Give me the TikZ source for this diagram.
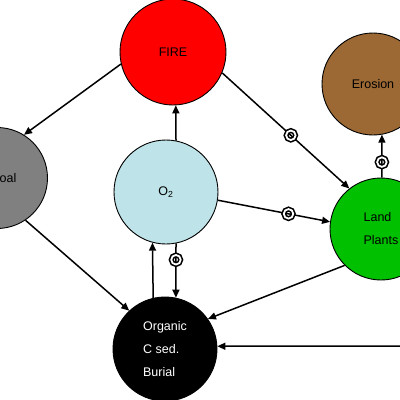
\documentclass[tikz,border=0pt]{standalone}
\usepackage{fontspec}
\setmainfont{Liberation Sans}
\usetikzlibrary{arrows.meta}
\definecolor{o2blue}{RGB}{190,227,232}
\definecolor{erosbrown}{RGB}{156,104,52}
\definecolor{landgreen}{RGB}{0,192,0}
\definecolor{coalgray}{RGB}{128,128,128}
\begin{document}
\begin{tikzpicture}[x=1pt,y=-1pt,
  blob/.style={circle,draw=black,line width=0.9pt,inner sep=0pt,
    font=\fontsize{12.5}{23}\selectfont,align=left},
  link/.style={line width=1.5pt,-{Triangle[length=8pt,width=7pt]}},
  ring/.style={circle,draw=black,line width=1.6pt,double=white,
    double distance=1.8pt,inner sep=0pt,minimum size=9.5pt}]
\clip (0,0) rectangle (400,400);
\fill[white] (0,0) rectangle (400,400);
\node[blob,fill=red,minimum size=106pt] (fire) at (173,52) {FIRE};
\node[blob,fill=coalgray,minimum size=101pt] (coal) at (-3,178) {\hspace*{13pt}Coal};
\node[blob,fill=o2blue,minimum size=104pt] (o2) at (166,192) {O\textsubscript{2}};
\node[blob,fill=erosbrown,minimum size=102pt] (eros) at (373,84) {Erosion};
\node[blob,fill=landgreen,minimum size=102pt] (land) at (381,229) {Land\\Plants};
\node[blob,fill=black,text=white,minimum size=104pt] (burial) at (165,349) {Organic\\C sed.\\Burial};
\coordinate (east) at (412,346);
\draw[link] (fire.193) -- (coal.58);
\draw[link] (o2.79) -- (fire.273);
\draw[link] (fire.337) -- node[ring,pos=0.54]{} (land.128);
\draw[link] (o2.351) -- node[ring,pos=0.63]{} (land.172);
\draw[link] (land.89) -- node[ring,pos=0.36]{} (eros.280);
\draw[link] (coal.304) -- (burial.133);
\draw[link] (burial.103) -- (o2.255);
\draw[link] (o2.281) -- node[ring,pos=0.3]{} (burial.78);
\draw[link] (land.225) -- (burial.35);
\draw[link] (east) -- (burial.3);
\end{tikzpicture}
\end{document}
